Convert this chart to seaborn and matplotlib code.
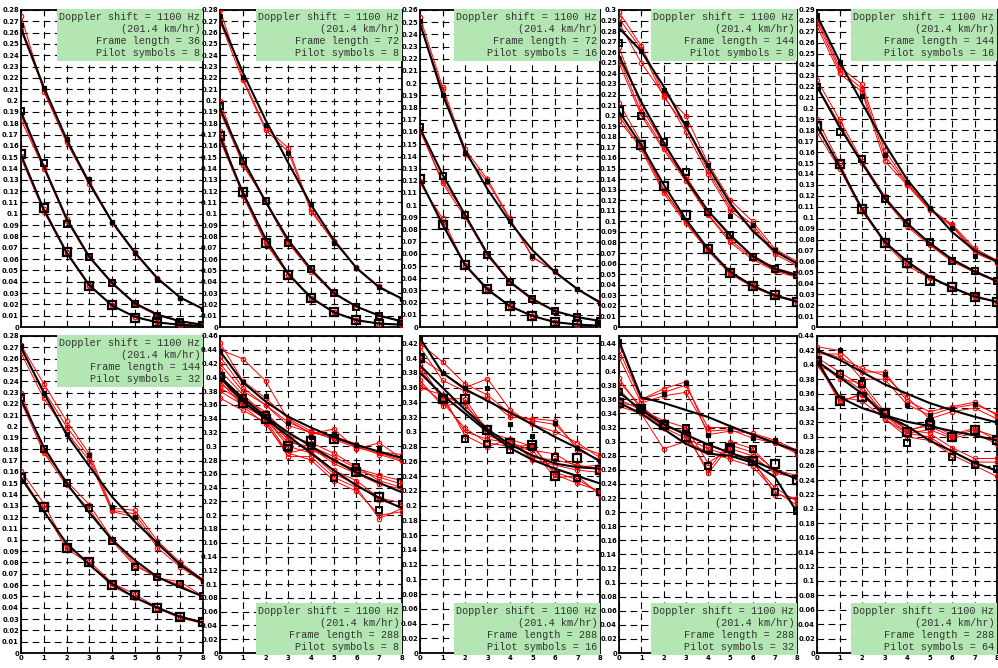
import matplotlib
matplotlib.use("Agg")
import matplotlib.pyplot as plt
from matplotlib import font_manager
import numpy as np
import pandas as pd
import seaborn as sns

# ---------------------------------------------------------------- data
steps = [0, 1, 2, 3, 4, 5, 6, 7, 8]

frame_lengths = [36, 72, 72, 144, 144, 144, 288, 288, 288, 288]
pilot_symbols = [8, 8, 16, 8, 16, 32, 8, 16, 32, 64]
y_max = [0.28, 0.28, 0.26, 0.30, 0.29, 0.28, 0.46, 0.43, 0.45, 0.44]
y_step = [0.01, 0.01, 0.01, 0.01, 0.01, 0.01, 0.02, 0.02, 0.02, 0.02]
box_at_top = [True, True, True, True, True, True, False, False, False, False]

# fitted curves (black lines), one per group: small / medium / large marker
p1_fit = [[0.264, 0.212, 0.166, 0.127, 0.093, 0.066, 0.043, 0.026, 0.016],
          [0.190, 0.142, 0.096, 0.062, 0.039, 0.021, 0.011, 0.005, 0.002],
          [0.152, 0.104, 0.066, 0.037, 0.019, 0.009, 0.004, 0.002, 0.001]]
p1_meas = [[0.267, 0.211, 0.166, 0.131, 0.093, 0.065, 0.042, 0.026, 0.016],
           [0.191, 0.145, 0.091, 0.062, 0.039, 0.020, 0.010, 0.004, 0.002],
           [0.153, 0.105, 0.066, 0.036, 0.019, 0.008, 0.004, 0.001, 0.001]]
p1_red = [[[0.275, 0.208, 0.163, 0.126, 0.092, 0.065, 0.042, 0.026, 0.016],
           [0.262, 0.210, 0.165, 0.129, 0.093, 0.066, 0.043, 0.026, 0.016]],
          [[0.187, 0.141, 0.094, 0.061, 0.039, 0.020, 0.010, 0.005, 0.002],
           [0.183, 0.140, 0.095, 0.062, 0.038, 0.021, 0.011, 0.005, 0.002]],
          [[0.149, 0.102, 0.065, 0.036, 0.019, 0.009, 0.004, 0.002, 0.001],
           [0.151, 0.104, 0.066, 0.037, 0.019, 0.009, 0.004, 0.002, 0.001]]]

p2_fit = [[0.272, 0.225, 0.183, 0.145, 0.108, 0.077, 0.052, 0.035, 0.025],
          [0.193, 0.148, 0.111, 0.077, 0.051, 0.030, 0.018, 0.010, 0.005],
          [0.168, 0.119, 0.078, 0.047, 0.026, 0.013, 0.006, 0.003, 0.002]]
p2_meas = [[0.275, 0.221, 0.178, 0.154, 0.109, 0.074, 0.052, 0.035, 0.025],
           [0.195, 0.147, 0.111, 0.074, 0.051, 0.030, 0.018, 0.010, 0.005],
           [0.169, 0.119, 0.074, 0.046, 0.026, 0.013, 0.006, 0.003, 0.002]]
p2_red = [[[0.280, 0.220, 0.176, 0.158, 0.104, 0.075, 0.053, 0.035, 0.025],
           [0.270, 0.218, 0.174, 0.155, 0.102, 0.076, 0.052, 0.036, 0.025]],
          [[0.200, 0.143, 0.112, 0.075, 0.049, 0.030, 0.018, 0.010, 0.005],
           [0.190, 0.145, 0.110, 0.074, 0.050, 0.029, 0.018, 0.010, 0.005]],
          [[0.173, 0.116, 0.075, 0.046, 0.026, 0.013, 0.006, 0.003, 0.002],
           [0.165, 0.117, 0.074, 0.046, 0.025, 0.013, 0.006, 0.003, 0.002]]]

p3_fit = [[0.249, 0.191, 0.145, 0.113, 0.086, 0.063, 0.045, 0.031, 0.020],
          [0.163, 0.125, 0.092, 0.060, 0.037, 0.023, 0.013, 0.008, 0.005],
          [0.121, 0.084, 0.051, 0.031, 0.017, 0.009, 0.004, 0.002, 0.001]]
p3_meas = [[0.251, 0.190, 0.143, 0.120, 0.087, 0.058, 0.046, 0.031, 0.020],
           [0.164, 0.124, 0.092, 0.059, 0.037, 0.023, 0.013, 0.008, 0.005],
           [0.121, 0.084, 0.051, 0.031, 0.017, 0.009, 0.004, 0.002, 0.001]]
p3_red = [[[0.254, 0.197, 0.146, 0.121, 0.089, 0.057, 0.046, 0.031, 0.021],
           [0.248, 0.195, 0.142, 0.119, 0.088, 0.058, 0.045, 0.031, 0.020]],
          [[0.161, 0.120, 0.093, 0.058, 0.037, 0.023, 0.013, 0.008, 0.005],
           [0.162, 0.118, 0.090, 0.059, 0.036, 0.022, 0.013, 0.008, 0.005]],
          [[0.118, 0.089, 0.051, 0.031, 0.017, 0.009, 0.004, 0.002, 0.001],
           [0.120, 0.086, 0.050, 0.030, 0.017, 0.009, 0.004, 0.002, 0.001]]]

p4_fit = [[0.283, 0.261, 0.228, 0.190, 0.152, 0.117, 0.091, 0.072, 0.060],
          [0.257, 0.213, 0.175, 0.140, 0.110, 0.087, 0.067, 0.055, 0.049],
          [0.204, 0.172, 0.135, 0.102, 0.074, 0.052, 0.039, 0.030, 0.024]]
p4_meas = [[0.287, 0.261, 0.224, 0.193, 0.153, 0.105, 0.097, 0.073, 0.060],
           [0.269, 0.200, 0.175, 0.147, 0.109, 0.087, 0.066, 0.055, 0.049],
           [0.204, 0.172, 0.133, 0.106, 0.074, 0.051, 0.039, 0.030, 0.024]]
p4_red = [[[0.298, 0.266, 0.222, 0.200, 0.155, 0.120, 0.100, 0.074, 0.062],
           [0.292, 0.263, 0.218, 0.190, 0.148, 0.113, 0.097, 0.071, 0.060],
           [0.288, 0.250, 0.220, 0.185, 0.145, 0.110, 0.094, 0.069, 0.058]],
          [[0.265, 0.208, 0.173, 0.143, 0.110, 0.085, 0.068, 0.056, 0.050],
           [0.255, 0.203, 0.170, 0.140, 0.107, 0.082, 0.066, 0.054, 0.048],
           [0.250, 0.200, 0.168, 0.138, 0.106, 0.080, 0.064, 0.053, 0.047]],
          [[0.212, 0.175, 0.130, 0.100, 0.073, 0.052, 0.040, 0.030, 0.025],
           [0.200, 0.168, 0.127, 0.098, 0.072, 0.050, 0.038, 0.029, 0.024],
           [0.195, 0.170, 0.130, 0.100, 0.074, 0.051, 0.039, 0.030, 0.024]]]

p5_fit = [[0.285, 0.243, 0.205, 0.168, 0.135, 0.110, 0.087, 0.070, 0.060],
          [0.220, 0.183, 0.150, 0.118, 0.095, 0.077, 0.062, 0.051, 0.042],
          [0.184, 0.147, 0.108, 0.078, 0.060, 0.046, 0.036, 0.028, 0.023]]
p5_meas = [[0.285, 0.242, 0.211, 0.157, 0.133, 0.109, 0.091, 0.065, 0.060],
           [0.220, 0.178, 0.154, 0.117, 0.095, 0.078, 0.060, 0.051, 0.042],
           [0.184, 0.149, 0.108, 0.077, 0.059, 0.042, 0.037, 0.027, 0.023]]
p5_red = [[[0.282, 0.238, 0.222, 0.162, 0.132, 0.108, 0.094, 0.072, 0.061],
           [0.275, 0.232, 0.215, 0.152, 0.130, 0.107, 0.092, 0.068, 0.059],
           [0.279, 0.235, 0.218, 0.157, 0.131, 0.109, 0.093, 0.070, 0.060]],
          [[0.226, 0.190, 0.152, 0.120, 0.094, 0.076, 0.061, 0.050, 0.042],
           [0.220, 0.186, 0.150, 0.117, 0.092, 0.075, 0.060, 0.050, 0.041]],
          [[0.190, 0.150, 0.107, 0.079, 0.058, 0.046, 0.036, 0.028, 0.023],
           [0.178, 0.145, 0.106, 0.077, 0.056, 0.045, 0.036, 0.027, 0.023]]]

p6_fit = [[0.270, 0.230, 0.193, 0.165, 0.138, 0.116, 0.097, 0.078, 0.064],
          [0.224, 0.182, 0.150, 0.124, 0.100, 0.082, 0.067, 0.058, 0.050],
          [0.155, 0.125, 0.097, 0.078, 0.061, 0.049, 0.040, 0.032, 0.027]]
p6_meas = [[0.271, 0.230, 0.193, 0.175, 0.129, 0.120, 0.097, 0.078, 0.064],
           [0.225, 0.180, 0.150, 0.128, 0.099, 0.076, 0.067, 0.061, 0.050],
           [0.155, 0.129, 0.093, 0.080, 0.060, 0.051, 0.040, 0.032, 0.027]]
p6_red = [[[0.272, 0.238, 0.205, 0.176, 0.128, 0.126, 0.099, 0.080, 0.065],
           [0.265, 0.225, 0.195, 0.170, 0.125, 0.120, 0.093, 0.076, 0.063],
           [0.268, 0.232, 0.200, 0.173, 0.126, 0.123, 0.096, 0.078, 0.064]],
          [[0.230, 0.178, 0.152, 0.131, 0.101, 0.079, 0.066, 0.063, 0.050],
           [0.222, 0.177, 0.148, 0.127, 0.099, 0.077, 0.067, 0.060, 0.049]],
          [[0.161, 0.132, 0.094, 0.081, 0.062, 0.052, 0.040, 0.032, 0.027],
           [0.156, 0.127, 0.092, 0.079, 0.059, 0.049, 0.039, 0.031, 0.026]]]

p7_fit = [[0.438, 0.393, 0.365, 0.343, 0.327, 0.313, 0.302, 0.292, 0.283],
          [0.401, 0.370, 0.343, 0.320, 0.300, 0.280, 0.262, 0.247, 0.233],
          [0.400, 0.365, 0.340, 0.315, 0.290, 0.265, 0.243, 0.225, 0.210]]
p7_meas = [[0.438, 0.393, 0.373, 0.334, 0.313, 0.318, 0.302, 0.296, 0.285],
           [0.401, 0.370, 0.345, 0.298, 0.300, 0.254, 0.270, 0.208, 0.216],
           [0.400, 0.363, 0.340, 0.300, 0.307, 0.310, 0.263, 0.226, 0.246]]
p7_red = [[[0.450, 0.395, 0.370, 0.340, 0.322, 0.310, 0.298, 0.290, 0.280],
           [0.420, 0.380, 0.360, 0.335, 0.320, 0.312, 0.300, 0.288, 0.278],
           [0.440, 0.427, 0.395, 0.338, 0.318, 0.325, 0.296, 0.305, 0.282],
           [0.430, 0.385, 0.360, 0.330, 0.320, 0.315, 0.303, 0.292, 0.288]],
          [[0.410, 0.375, 0.345, 0.310, 0.295, 0.280, 0.265, 0.255, 0.245],
           [0.390, 0.370, 0.350, 0.315, 0.305, 0.290, 0.270, 0.250, 0.240],
           [0.380, 0.360, 0.340, 0.305, 0.300, 0.285, 0.268, 0.258, 0.250],
           [0.400, 0.365, 0.338, 0.290, 0.298, 0.275, 0.260, 0.245, 0.238]],
          [[0.400, 0.360, 0.340, 0.300, 0.290, 0.260, 0.245, 0.222, 0.212],
           [0.370, 0.352, 0.335, 0.285, 0.285, 0.255, 0.240, 0.195, 0.210],
           [0.385, 0.365, 0.342, 0.310, 0.292, 0.265, 0.250, 0.225, 0.218],
           [0.395, 0.358, 0.332, 0.290, 0.280, 0.250, 0.235, 0.200, 0.205]]]

p8_fit = [[0.427, 0.380, 0.358, 0.342, 0.326, 0.310, 0.293, 0.278, 0.260],
          [0.390, 0.360, 0.330, 0.303, 0.283, 0.268, 0.257, 0.252, 0.250],
          [0.380, 0.350, 0.325, 0.300, 0.278, 0.262, 0.250, 0.240, 0.230]]
p8_meas = [[0.427, 0.380, 0.360, 0.360, 0.311, 0.295, 0.312, 0.278, 0.260],
           [0.400, 0.345, 0.290, 0.284, 0.276, 0.280, 0.266, 0.238, 0.218],
           [0.400, 0.345, 0.344, 0.302, 0.285, 0.282, 0.240, 0.264, 0.248]]
p8_red = [[[0.420, 0.395, 0.365, 0.350, 0.325, 0.315, 0.310, 0.280, 0.270],
           [0.400, 0.380, 0.360, 0.372, 0.330, 0.310, 0.300, 0.285, 0.265],
           [0.415, 0.370, 0.355, 0.345, 0.320, 0.318, 0.315, 0.275, 0.262]],
          [[0.390, 0.345, 0.300, 0.290, 0.285, 0.265, 0.262, 0.255, 0.250],
           [0.380, 0.350, 0.295, 0.280, 0.290, 0.262, 0.255, 0.248, 0.245],
           [0.365, 0.340, 0.305, 0.285, 0.280, 0.275, 0.270, 0.252, 0.255]],
          [[0.385, 0.345, 0.345, 0.300, 0.290, 0.280, 0.245, 0.235, 0.218],
           [0.370, 0.335, 0.340, 0.295, 0.285, 0.275, 0.238, 0.240, 0.214],
           [0.360, 0.350, 0.335, 0.305, 0.280, 0.282, 0.242, 0.230, 0.220]]]

p9_fit = [[0.443, 0.363, 0.355, 0.345, 0.335, 0.322, 0.310, 0.298, 0.287],
          [0.370, 0.345, 0.325, 0.310, 0.296, 0.284, 0.273, 0.260, 0.247],
          [0.355, 0.340, 0.318, 0.297, 0.283, 0.280, 0.270, 0.250, 0.200]]
p9_meas = [[0.443, 0.347, 0.368, 0.383, 0.310, 0.318, 0.305, 0.303, 0.287],
           [0.370, 0.347, 0.324, 0.319, 0.265, 0.290, 0.289, 0.229, 0.202],
           [0.355, 0.347, 0.323, 0.306, 0.291, 0.291, 0.273, 0.268, 0.246]]
p9_red = [[[0.430, 0.360, 0.370, 0.380, 0.320, 0.320, 0.310, 0.300, 0.285],
           [0.420, 0.355, 0.365, 0.370, 0.315, 0.317, 0.305, 0.298, 0.283],
           [0.440, 0.360, 0.375, 0.385, 0.310, 0.315, 0.312, 0.302, 0.288]],
          [[0.390, 0.345, 0.330, 0.320, 0.270, 0.290, 0.280, 0.255, 0.250],
           [0.375, 0.340, 0.325, 0.310, 0.260, 0.300, 0.290, 0.258, 0.248],
           [0.385, 0.350, 0.320, 0.315, 0.255, 0.295, 0.285, 0.260, 0.252]],
          [[0.360, 0.345, 0.320, 0.305, 0.290, 0.280, 0.270, 0.235, 0.215],
           [0.350, 0.340, 0.290, 0.300, 0.285, 0.275, 0.265, 0.230, 0.210],
           [0.355, 0.350, 0.325, 0.310, 0.295, 0.285, 0.275, 0.225, 0.220]]]

p10_fit = [[0.420, 0.407, 0.390, 0.373, 0.360, 0.347, 0.337, 0.328, 0.320],
           [0.405, 0.383, 0.360, 0.330, 0.315, 0.295, 0.280, 0.264, 0.253],
           [0.405, 0.355, 0.340, 0.330, 0.321, 0.315, 0.308, 0.302, 0.295]]
p10_meas = [[0.420, 0.421, 0.380, 0.387, 0.344, 0.331, 0.339, 0.345, 0.320],
            [0.405, 0.387, 0.373, 0.333, 0.291, 0.320, 0.272, 0.261, 0.256],
            [0.405, 0.350, 0.356, 0.333, 0.307, 0.316, 0.300, 0.309, 0.296]]
p10_red = [[[0.425, 0.420, 0.390, 0.390, 0.350, 0.335, 0.342, 0.348, 0.330],
            [0.420, 0.410, 0.395, 0.385, 0.355, 0.325, 0.335, 0.340, 0.325],
            [0.415, 0.415, 0.380, 0.380, 0.345, 0.330, 0.340, 0.345, 0.332]],
           [[0.410, 0.390, 0.370, 0.330, 0.305, 0.300, 0.280, 0.265, 0.265],
            [0.400, 0.385, 0.365, 0.325, 0.300, 0.295, 0.275, 0.260, 0.245],
            [0.405, 0.380, 0.375, 0.335, 0.310, 0.305, 0.285, 0.270, 0.270]],
           [[0.410, 0.350, 0.358, 0.330, 0.310, 0.315, 0.300, 0.310, 0.300],
            [0.400, 0.355, 0.350, 0.325, 0.305, 0.310, 0.298, 0.305, 0.290],
            [0.405, 0.348, 0.360, 0.335, 0.308, 0.318, 0.303, 0.312, 0.295]]]

panel_fit = [p1_fit, p2_fit, p3_fit, p4_fit, p5_fit, p6_fit, p7_fit, p8_fit, p9_fit, p10_fit]
panel_meas = [p1_meas, p2_meas, p3_meas, p4_meas, p5_meas, p6_meas, p7_meas, p8_meas, p9_meas, p10_meas]
panel_red = [p1_red, p2_red, p3_red, p4_red, p5_red, p6_red, p7_red, p8_red, p9_red, p10_red]

# ---------------------------------------------------------------- style
sns.set_style("white")
available = {f.name for f in font_manager.fontManager.ttflist}
if "Liberation Sans Narrow" in available:
    tick_font = dict(family="Liberation Sans Narrow", weight="bold", size=6.3)
else:
    tick_font = dict(family="DejaVu Sans", stretch="condensed", weight="bold", size=5.4)
plt.rcParams["font.family"] = ["DejaVu Sans"]
mono_family = ["Liberation Mono", "DejaVu Sans Mono"]

BOX_GREEN = "#b3e6b3"
W, H = 998, 668
fig = plt.figure(figsize=(W / 100, H / 100), dpi=100)

col_left = [21, 220, 420, 619, 817]
col_right = [203, 402, 600, 797, 997]
row_top = [10, 336]
row_bottom = [327, 653]

# marker looks for the three groups
marker_styles = [dict(marker="s", markersize=3.0, markerfacecolor="black",
                      markeredgecolor="black", markeredgewidth=0.8),
                 dict(marker="s", markersize=4.2, markerfacecolor="none",
                      markeredgecolor="black", markeredgewidth=1.4),
                 dict(marker="s", markersize=6.2, markerfacecolor="none",
                      markeredgecolor="black", markeredgewidth=1.6)]


def red_frame(groups):
    rows = []
    for g, runs in enumerate(groups):
        for r, run in enumerate(runs):
            for xv, yv in zip(steps, run):
                rows.append({"x": xv, "y": yv, "run": f"{g}-{r}"})
    return pd.DataFrame(rows)


for i in range(10):
    row, col = divmod(i, 5)
    l, r = col_left[col], col_right[col]
    t, b = row_top[row], row_bottom[row]
    ax = fig.add_axes([l / W, 1 - b / H, (r - l) / W, (b - t) / H])

    # red: individual runs
    rdf = red_frame(panel_red[i])
    sns.lineplot(data=rdf, x="x", y="y", units="run", estimator=None, sort=False,
                 color="red", linewidth=0.7, marker="o", markersize=3.2,
                 markerfacecolor="none", markeredgecolor="red",
                 markeredgewidth=0.8, legend=False, ax=ax, zorder=3)

    # black: fitted curves and measured points
    for g in range(3):
        sns.lineplot(x=steps, y=panel_fit[i][g], color="black", linewidth=1.5,
                     estimator=None, sort=False, legend=False, ax=ax, zorder=4)
        sns.lineplot(x=steps, y=panel_meas[i][g], linestyle="none",
                     estimator=None, sort=False, legend=False, ax=ax, zorder=5,
                     **marker_styles[g])

    ymax = y_max[i]
    ax.set_xlim(0, 8)
    ax.set_ylim(0, ymax)
    n_ticks = int(round(ymax / y_step[i] + 1e-9))
    yt = [round(k * y_step[i], 2) for k in range(n_ticks + 1) if k * y_step[i] <= ymax + 1e-9]
    ax.set_yticks(yt)
    ax.set_yticklabels([f"{v:g}" for v in yt], **tick_font)
    ax.set_xticks(steps)
    ax.set_xticklabels([str(s) for s in steps], **tick_font)
    ax.tick_params(axis="both", direction="in", length=3, width=0.8, pad=1.5,
                   top=True, right=True, labelbottom=(row == 1), colors="black")
    ax.set_xlabel("")
    ax.set_ylabel("")
    ax.grid(True, color="black", linestyle=(0, (6, 4)), linewidth=0.8)
    ax.set_axisbelow(True)
    for s in ax.spines.values():
        s.set_color("black")
        s.set_linewidth(1.3)
    ax.set_facecolor("white")

    label = ("Doppler shift = 1100 Hz\n(201.4 km/hr)\n"
             f"Frame length = {frame_lengths[i]}\nPilot symbols = {pilot_symbols[i]}")
    if box_at_top[i]:
        xy, off, va = (1, 1), (-2.0, -1.6), "top"
    else:
        xy, off, va = (1, 0), (-2.0, 0.8), "bottom"
    ax.annotate(label, xy=xy, xycoords="axes fraction", xytext=off,
                textcoords="offset points", ha="right", va=va, ma="right",
                family=mono_family, fontsize=7.3, color="#333333", linespacing=1.25,
                annotation_clip=False, zorder=10,
                bbox=dict(boxstyle="square,pad=0.28", fc=BOX_GREEN, ec="none"))

fig.savefig("out.png", dpi=100)
